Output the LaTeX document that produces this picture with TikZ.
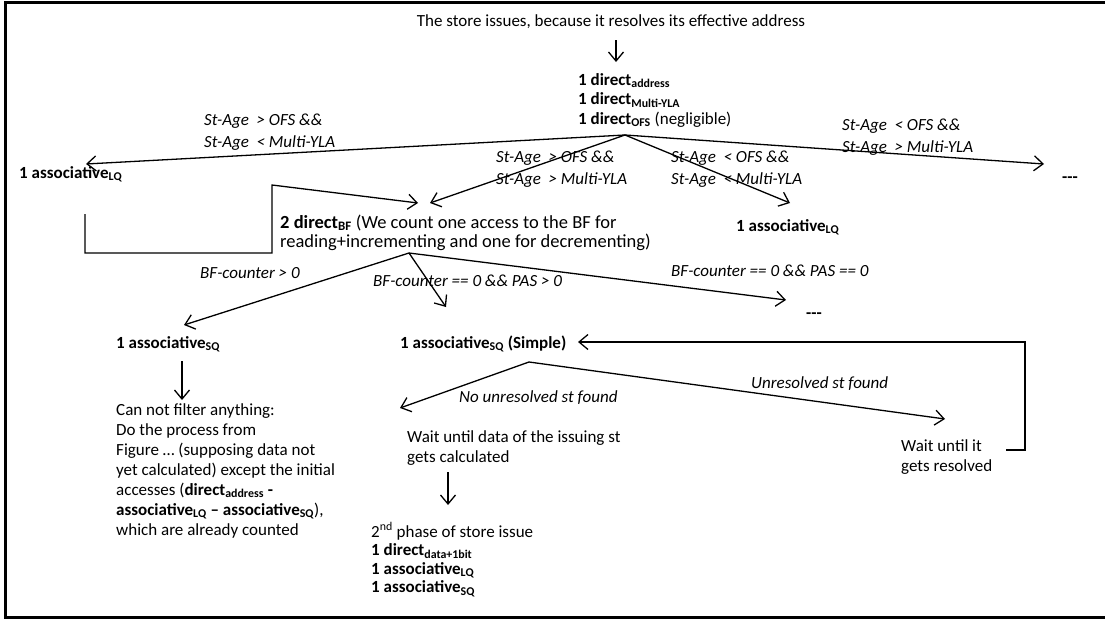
\documentclass[tikz,border=0pt]{standalone}
\usepackage{fontspec}
\setmainfont{Carlito}
\usetikzlibrary{arrows.meta}
\begin{document}
\begin{tikzpicture}[x=1pt,y=-1pt,
  txt/.style={inner sep=0pt, anchor=base west, align=left, font=\fontsize{17}{19.5}\selectfont},
  cond/.style={inner sep=0pt, anchor=base west, align=left, font=\fontsize{17}{22}\selectfont\itshape},
  link/.style={line width=1.3pt, -{Straight Barb[length=9pt,width=15pt]}},
  dashes/.style={inner sep=0pt, anchor=base west, font=\fontsize{17}{19.5}\selectfont\bfseries}]
\useasboundingbox (0,0) rectangle (1105,621);
% outer frame
\draw[line width=3pt] (5.5,2.5) rectangle (1115,617);

% issue and first accesses (multi-line nodes are placed by their last baseline)
\node[txt, anchor=base] (title) at (611,27) {The store issues, because it resolves its effective address};
\node[txt] (direct) at (578,124) {\textbf{1 direct\textsubscript{address}}\\\textbf{1 direct\textsubscript{Multi-YLA}}\\\textbf{1 direct\textsubscript{OFS}} (negligible)};
\coordinate (t0) at (616,40);
\coordinate (t1) at (616,62);
\draw[link] (t0) -- (t1);

% age-based split
\coordinate (apA) at (625,135);
\coordinate (tipL) at (86,164);
\coordinate (tipR) at (1044,164);
\coordinate (tipIL) at (430,203);
\coordinate (tipIR) at (790,203);
\node[cond] (cL) at (204,147) {St-Age\ \ > OFS \&\&\\St-Age\ \ < Multi-YLA};
\node[cond] (cR) at (842,152) {St-Age\ \ < OFS \&\&\\St-Age\ \ > Multi-YLA};
\node[cond] (cIL) at (496,184) {St-Age\ \ > OFS \&\&\\St-Age\ \ > Multi-YLA};
\node[cond] (cIR) at (671,184) {St-Age\ \ < OFS \&\&\\St-Age\ \ < Multi-YLA};
\draw[link] (apA) -- (tipL);
\draw[link] (apA) -- (tipR);
\draw[link] (apA) -- (tipIL);
\draw[link] (apA) -- (tipIR);

\node[txt] (lqL) at (19,178) {\textbf{1 associative\textsubscript{LQ}}};
\node[txt] (lqR) at (736,231) {\textbf{1 associative\textsubscript{LQ}}};
\node[dashes] (dotsA) at (1062,182) {-{}-{}-};

% path from the left LQ search into the BF
\coordinate (b0) at (85,214);
\coordinate (b2) at (272,253);
\coordinate (b3) at (272,185);
\coordinate (tipB) at (418,203);
\draw[link] (b0) |- (b2) -- (b3) -- (tipB);

\node[txt, font=\fontsize{18.5}{19.5}\selectfont] (bf) at (280,247.5) {\textbf{2 direct\textsubscript{BF}} (We count one access to the BF for\\reading+incrementing and one for decrementing)};

% BF-counter split
\coordinate (apB) at (409,253);
\coordinate (tipS1) at (184,325);
\coordinate (tipS2) at (446,307);
\coordinate (tipS3) at (786,300);
\draw[link] (apB) -- (tipS1);
\draw[link] (apB) -- (tipS2);
\draw[link] (apB) -- (tipS3);
\node[cond] (c1) at (200,278) {BF-counter > 0};
\node[cond] (c2) at (373,286) {BF-counter == 0 \&\& PAS > 0};
\node[cond] (c3) at (671,276) {BF-counter == 0 \&\& PAS == 0};
\node[dashes] (dotsB) at (806,318) {-{}-{}-};

% counter > 0
\node[txt] (sqL) at (116,348) {\textbf{1 associative\textsubscript{SQ}}};
\coordinate (s0) at (182,361);
\coordinate (s1) at (182,400);
\draw[link] (s0) -- (s1);
\node[txt, font=\fontsize{17}{20}\selectfont] (nofilter) at (116,535) {Can not filter anything:\\Do the process from\\Figure … (supposing data not\\yet calculated) except the initial\\accesses (\textbf{direct\textsubscript{address} -}\\\textbf{associative\textsubscript{LQ} – associative\textsubscript{SQ}}),\\which are already counted};

% simple SQ search
\node[txt] (sqS) at (400,348) {\textbf{1 associative\textsubscript{SQ} (Simple)}};
\coordinate (apC) at (529,362);
\coordinate (tipN) at (400,408);
\coordinate (tipU) at (945,419);
\draw[link] (apC) -- (tipN);
\draw[link] (apC) -- (tipU);
\node[cond] (cN) at (459,402) {No unresolved st found};
\node[cond] (cU) at (751,388) {Unresolved st found};

\node[txt] (waitR) at (901,471) {Wait until it\\gets resolved};
\coordinate (r0) at (1006,450);
\coordinate (r1) at (1025,450);
\coordinate (r2) at (1025,342);
\coordinate (r3) at (578,342);
\draw[link] (r0) -- (r1) -- (r2) -- (r3);

\node[txt] (waitD) at (407,462) {Wait until data of the issuing st\\gets calculated};
\coordinate (w0) at (448,472);
\coordinate (w1) at (448,505);
\draw[link] (w0) -- (w1);
\node[txt, font=\fontsize{17}{18.5}\selectfont] (phase2) at (371,592.5) {2\textsuperscript{nd} phase of store issue\\\textbf{1 direct\textsubscript{data+1bit}}\\\textbf{1 associative\textsubscript{LQ}}\\\textbf{1 associative\textsubscript{SQ}}};
\end{tikzpicture}
\end{document}
